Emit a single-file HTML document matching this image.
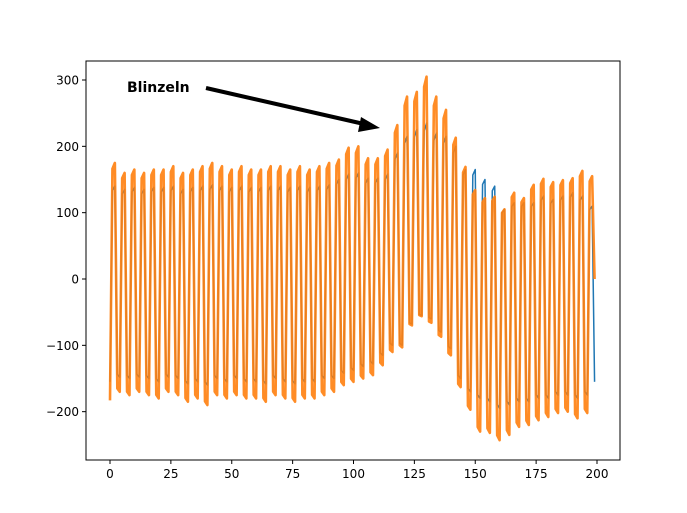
<!DOCTYPE html>
<html><head><meta charset="utf-8"><style>
body{margin:0;background:#fff}
svg{display:block;font-family:"DejaVu Sans","Liberation Sans",sans-serif}
</style></head><body>
<svg id="chart" width="687" height="513" xmlns="http://www.w3.org/2000/svg">
<rect x="0" y="0" width="687" height="513" fill="#fff"/>
<g id="plot"></g>
<g id="axes"></g>
</svg>
<script>
const xTicks=[0,25,50,75,100,125,150,175,200];
const yTicks=[-200,-100,0,100,200,300];
const orangePeaks=[175,160,165,160,165,165,170,160,165,170,175,170,165,170,165,165,170,170,165,170,165,170,175,180,198,200,182,182,195,232,275,282,305,275,255,213,169,134,122,124,105,130,122,142,151,146,149,152,163,155];
const orangeTroughs=[-183,-170,-175,-170,-175,-180,-170,-175,-185,-180,-190,-175,-180,-175,-180,-180,-185,-175,-180,-185,-180,-180,-175,-170,-160,-155,-150,-145,-130,-110,-103,-70,-56,-66,-87,-115,-163,-197,-230,-232,-243,-235,-223,-220,-213,-208,-202,-200,-210,-202];
const bluePeaks=[140,135,138,135,138,138,140,135,138,140,142,140,138,140,138,138,140,140,138,140,138,140,142,150,158,160,152,152,158,190,215,225,235,220,215,200,165,165,150,140,105,115,115,115,125,120,125,130,125,110];
const blueTroughs=[-155,-148,-150,-148,-150,-155,-148,-150,-158,-155,-160,-150,-155,-150,-155,-155,-158,-150,-155,-158,-155,-155,-150,-150,-142,-138,-132,-128,-115,-100,-100,-68,-55,-60,-80,-105,-150,-170,-180,-185,-195,-190,-185,-185,-180,-180,-175,-175,-180,-175];
const orangeEnd=0, blueEnd=-155;

const X0=86,X1=620,Y0=61,Y1=460;
const xs=v=>110+v*(597-110)/200;
const ys=v=>279-v*(279-80)/300;
const NS="http://www.w3.org/2000/svg";
function mk(tag,attrs,parent){const e=document.createElementNS(NS,tag);for(const k in attrs)e.setAttribute(k,attrs[k]);parent.appendChild(e);return e;}

function build(peaks,troughs,end){
  const s=[];
  for(let k=0;k<peaks.length;k++){
    s.push(troughs[k]);
    s.push(peaks[k]*0.95);
    s.push(peaks[k]);
    const nt=k+1<troughs.length?troughs[k+1]:troughs[k];
    s.push(nt*0.97);
  }
  s[s.length-1]=end;
  return s;
}
const plot=document.getElementById('plot');
const axes=document.getElementById('axes');
function drawSeries(data,color,name,w,op){
  const d=data.map((v,i)=>(i?'L':'M')+xs(i).toFixed(2)+','+ys(v).toFixed(2)).join('');
  const p=mk('path',{d:d,fill:'none',stroke:color,'stroke-width':w,'stroke-linejoin':'round','stroke-opacity':op},plot);
  
  
}
drawSeries(build(bluePeaks,blueTroughs,blueEnd),'#1f77b4','blue-series-line',1.5,1);
drawSeries(build(orangePeaks,orangeTroughs,orangeEnd),'#ff7f0e','orange-series-line',2.6,0.9);

const frame=mk('rect',{x:X0,y:Y0,width:X1-X0,height:Y1-Y0,fill:'none',stroke:'#000','stroke-width':1},axes);


xTicks.forEach(t=>{
  const x=xs(t);
  const l=mk('line',{x1:x,y1:Y1,x2:x,y2:Y1+4,stroke:'#000'},axes);
  
  
  const tx=mk('text',{x:x,y:Y1+18,'text-anchor':'middle','font-size':'12'},axes);
  tx.textContent=t;
  
  
});
yTicks.forEach(t=>{
  const y=ys(t);
  const l=mk('line',{x1:X0-4,y1:y,x2:X0,y2:y,stroke:'#000'},axes);
  
  
  const tx=mk('text',{x:X0-7,y:y+4.5,'text-anchor':'end','font-size':'12'},axes);
  tx.textContent=(t<0?'\u2212'+(-t):t);
  
  
});
const ann=mk('text',{x:127,y:92,'font-size':'14','font-weight':'bold',fill:'#000'},axes);
ann.textContent='Blinzeln';


const ar=mk('line',{x1:206,y1:88,x2:364,y2:124,stroke:'#000','stroke-width':4},axes);


const ah=mk('polygon',{points:'380,128 361,117 358,132',fill:'#000'},axes);


</script>
</body></html>
